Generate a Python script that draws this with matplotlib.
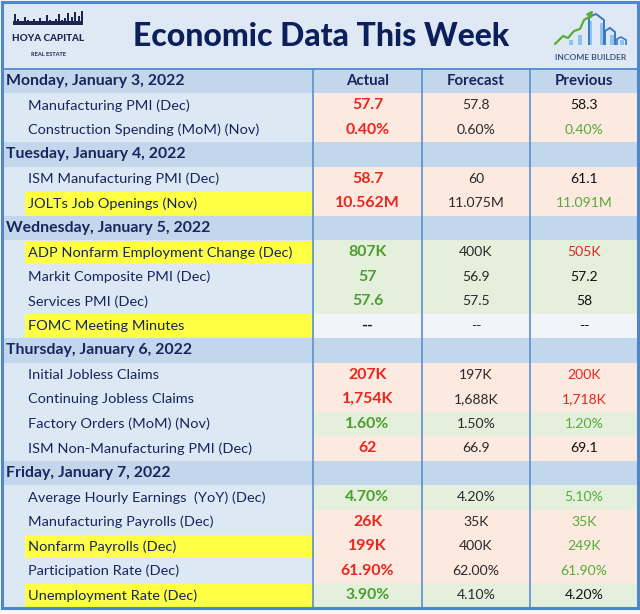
import matplotlib
matplotlib.use("Agg")
import matplotlib.pyplot as plt
from matplotlib.patches import Rectangle, Polygon

# ---------------- data ----------------
title = "Economic Data This Week"
col_headers = ["Actual", "Forecast", "Previous"]

days = ["Monday, January 3, 2022", "Tuesday, January 4, 2022",
        "Wednesday, January 5, 2022", "Thursday, January 6, 2022",
        "Friday, January 7, 2022"]
day_counts = [2, 2, 4, 4, 5]

indicators = ["Manufacturing PMI (Dec)", "Construction Spending (MoM) (Nov)",
              "ISM Manufacturing PMI (Dec)", "JOLTs Job Openings (Nov)",
              "ADP Nonfarm Employment Change (Dec)", "Markit Composite PMI (Dec)",
              "Services PMI (Dec)", "FOMC Meeting Minutes",
              "Initial Jobless Claims", "Continuing Jobless Claims",
              "Factory Orders (MoM) (Nov)", "ISM Non-Manufacturing PMI (Dec)",
              "Average Hourly Earnings  (YoY) (Dec)", "Manufacturing Payrolls (Dec)",
              "Nonfarm Payrolls (Dec)", "Participation Rate (Dec)",
              "Unemployment Rate (Dec)"]
actual = ["57.7", "0.40%", "58.7", "10.562M", "807K", "57", "57.6", "--",
          "207K", "1,754K", "1.60%", "62", "4.70%", "26K", "199K", "61.90%", "3.90%"]
forecast = ["57.8", "0.60%", "60", "11.075M", "400K", "56.9", "57.5", "--",
            "197K", "1,688K", "1.50%", "66.9", "4.20%", "35K", "400K", "62.00%", "4.10%"]
previous = ["58.3", "0.40%", "61.1", "11.091M", "505K", "57.2", "58", "--",
            "200K", "1,718K", "1.20%", "69.1", "5.10%", "35K", "249K", "61.90%", "4.20%"]
# outcome: 'r' = miss (red), 'g' = beat (green), 'n' = neutral
outcome = ["r", "r", "r", "r", "g", "g", "g", "n",
           "r", "r", "g", "r", "g", "r", "r", "r", "g"]
prev_tone = ["k", "g", "k", "g", "r", "k", "k", "k",
             "r", "r", "g", "k", "g", "g", "g", "g", "k"]
highlighted = [False, False, False, True, True, False, False, True,
               False, False, False, False, False, False, True, False, True]

# ---------------- style ----------------
NAVY = "#17265c"
TITLE_NAVY = "#0c1f5b"
HEADER_BG = "#dfe9f5"
DAY_BG = "#c3d7ec"
LABEL_BG = "#dde8f5"
PINK = "#fce9e0"
GREEN_BG = "#e4efdc"
NEUTRAL_BG = "#f1f4f9"
RED = "#e8261d"
GREEN = "#4c9e2f"
GREEN_LT = "#55ad35"
YELLOW = "#ffff44"
LINE = "#5b8fd0"

cell_bg = {"r": PINK, "g": GREEN_BG, "n": NEUTRAL_BG}
act_color = {"r": RED, "g": GREEN, "n": "#222222"}
prev_color = {"r": RED, "g": GREEN_LT, "k": "#111111"}

FONT = ["Lato", "DejaVu Sans"]
plt.rcParams["font.family"] = FONT

W, H = 640, 614
fig = plt.figure(figsize=(W / 100, H / 100), dpi=100)
fig.patch.set_facecolor("#f4f6fa")
ax = fig.add_axes([0, 0, 1, 1])
ax.set_xlim(0, W)
ax.set_ylim(H, 0)
ax.axis("off")
renderer = fig.canvas.get_renderer()


def fit(text, target_px, weight="normal"):
    t = ax.text(0, 0, text, fontsize=10, fontweight=weight)
    w = t.get_window_extent(renderer).width
    t.remove()
    return 10 * target_px / w


x0, x1 = 2, 638
col_x = [313, 422, 530, 638]
header_bottom = 68.5
table_bottom = 607.5
n_rows = len(days) + len(indicators)
rh = (table_bottom - header_bottom) / n_rows

fs_title = fit(title, 376, "black")
fs_label = fit("Manufacturing PMI (Dec)", 160)
fs_day = fit("Monday, January 3, 2022", 180, "bold")
fs_colh = fit("Forecast", 58, "bold")
fs_act = fit("10.562M", 65, "bold")
fs_val = fit("11.075M", 57)

# header
ax.add_patch(Rectangle((x0, 2), x1 - x0, header_bottom - 2, facecolor=HEADER_BG,
                       edgecolor="none", zorder=1))
ax.text(321.5, 36, title, fontsize=fs_title, fontweight="black", color=TITLE_NAVY,
        ha="center", va="center", zorder=5)

# left logo: skyline + text
LOGO = "#1c2550"
sky = [(14, 11), (17, 6), (20, 4), (24, 8), (27, 5), (30, 3), (33, 6), (36, 3), (39, 7),
       (42, 4), (46, 10), (49, 5), (52, 3), (55, 6), (58, 11), (61, 5), (64, 7), (67, 12),
       (71, 8), (74, 13), (78, 9), (81, 14)]
for sx, sh in sky:
    ax.add_patch(Rectangle((sx, 25 - sh), 1.8, sh, facecolor=LOGO, edgecolor="none", zorder=3))
ax.add_patch(Rectangle((13, 21), 70, 4, facecolor=LOGO, edgecolor="none", zorder=3))
ax.text(48.5, 38.5, "HOYA CAPITAL", fontsize=fit("HOYA CAPITAL", 72, "black"),
        fontweight="black", color=LOGO, ha="center", va="center", zorder=5)
ax.text(48.5, 55, "REAL ESTATE", fontsize=fit("REAL ESTATE", 35, "bold"), fontweight="bold",
        color=LOGO, ha="center", va="center", zorder=5)

# right logo
for bx, bh in [(569, 5), (578, 10), (588, 24), (600, 22), (610, 10), (620, 5)]:
    ax.add_patch(Rectangle((bx, 45 - bh), 4, bh, facecolor="#8fc3ef", edgecolor="none", zorder=3))
ax.add_patch(Polygon([(589, 45), (589, 17), (596, 14), (604, 20), (604, 45)], closed=False,
                     fill=False, edgecolor="#3a78c0", lw=1.4, zorder=4))
ax.add_patch(Polygon([(605, 45), (605, 31), (610, 28), (615, 32), (615, 45)], closed=False,
                     fill=False, edgecolor="#3a78c0", lw=1.4, zorder=4))
ax.add_patch(Polygon([(617, 45), (617, 39), (621, 37), (626, 40), (626, 45)], closed=False,
                     fill=False, edgecolor="#3a78c0", lw=1.2, zorder=4))
ax.plot([555, 563, 568, 574, 580, 584, 589], [44, 36, 38, 31, 29, 20, 17],
        color="#5aae38", lw=1.6, zorder=5, solid_capstyle="round")
ax.annotate("", xy=(595, 8), xytext=(588, 17),
            arrowprops=dict(arrowstyle="-|>", color="#5aae38", lw=1.6, mutation_scale=8), zorder=5)
ax.text(590.5, 58, "INCOME BUILDER", fontsize=fit("INCOME BUILDER", 72, "bold"),
        color="#3d5a80", ha="center", va="center", zorder=5, fontweight="bold")

# table rows
row = 0
idx = 0
for d, cnt in zip(days, day_counts):
    y = header_bottom + row * rh
    ax.add_patch(Rectangle((x0, y), x1 - x0, rh, facecolor=DAY_BG, edgecolor="none", zorder=1))
    ax.text(6, y + rh / 2, d, fontsize=fs_day, fontweight="bold", color=NAVY,
            ha="left", va="center", zorder=5)
    if row == 0:
        for j, hname in enumerate(col_headers):
            cx = (col_x[j] + col_x[j + 1]) / 2
            ax.text(cx, y + rh / 2, hname, fontsize=fs_colh, fontweight="bold", color=NAVY,
                    ha="center", va="center", zorder=5)
    row += 1
    for _ in range(cnt):
        y = header_bottom + row * rh
        ax.add_patch(Rectangle((x0, y), col_x[0] - x0, rh, facecolor=LABEL_BG,
                               edgecolor="none", zorder=1))
        if highlighted[idx]:
            ax.add_patch(Rectangle((25, y + 0.8), col_x[0] - 25, rh - 1.6, facecolor=YELLOW,
                                   edgecolor="none", zorder=2))
        ax.add_patch(Rectangle((col_x[0], y), x1 - col_x[0], rh,
                               facecolor=cell_bg[outcome[idx]], edgecolor="none", zorder=1))
        ax.text(28, y + rh / 2, indicators[idx], fontsize=fs_label, color=NAVY,
                ha="left", va="center", zorder=5)
        vals = [actual[idx], forecast[idx], previous[idx]]
        cols = [act_color[outcome[idx]], "#2a2a2a", prev_color[prev_tone[idx]]]
        weights = ["bold", "normal", "normal"]
        sizes = [fs_act, fs_val, fs_val]
        for j in range(3):
            cx = (col_x[j] + col_x[j + 1]) / 2
            ax.text(cx, y + rh / 2, vals[j], fontsize=sizes[j], color=cols[j],
                    fontweight=weights[j], ha="center", va="center", zorder=5)
        row += 1
        idx += 1

# lines
for cx in col_x[:3]:
    ax.plot([cx, cx], [header_bottom, table_bottom], color=LINE, lw=1.2, zorder=6)
ax.plot([x0, x1], [header_bottom, header_bottom], color=LINE, lw=1.4, zorder=6)
ax.add_patch(Rectangle((x0, 2), x1 - x0, table_bottom - 2, fill=False, edgecolor="#4f86cc",
                       lw=2.2, zorder=7))

fig.savefig("out.png", dpi=100, facecolor=fig.get_facecolor())
